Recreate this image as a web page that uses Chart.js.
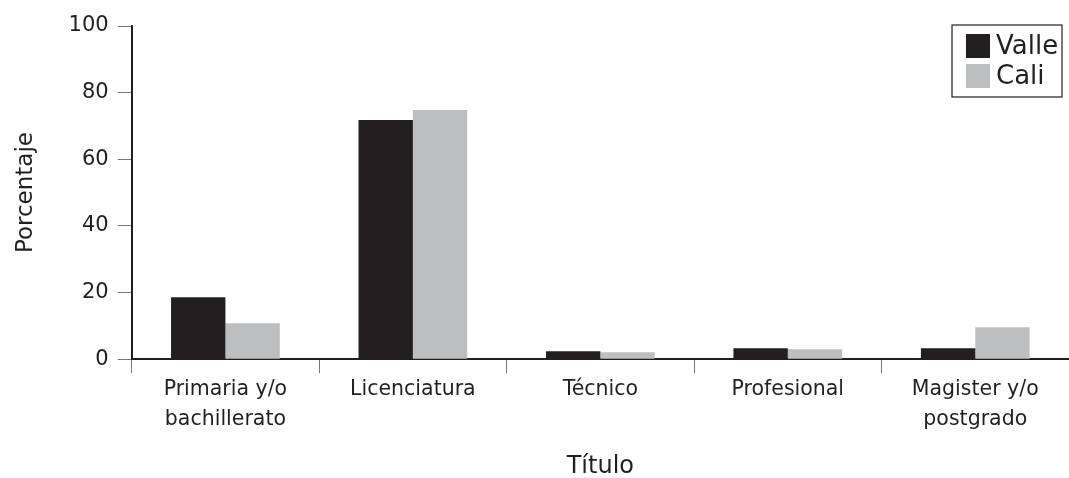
<!DOCTYPE html>
<html>
<head>
<meta charset="utf-8">
<script src="https://cdn.jsdelivr.net/npm/chart.js@4.4.0/dist/chart.umd.min.js"></script>
<style>
  html, body { margin: 0; padding: 0; background: #fff; }
  #wrap { width: 1069px; height: 478px; }
</style>
</head>
<body>
<div id="wrap"><canvas id="graph"></canvas></div>
<script>
// datos del grafico
const categorias = [['Primaria y/o', 'bachillerato'], 'Licenciatura', 'Técnico', 'Profesional', ['Magister y/o', 'postgrado']];
const valle = [18.6, 71.8, 2.4, 3.3, 3.3];
const cali = [10.8, 74.8, 2.1, 3.0, 9.6];
const yTicks = [0, 20, 40, 60, 80, 100];

const negro = '#231f20';
const gris = '#bcbec0';
const fuente = 'DejaVu Sans';

// leyenda con borde dentro del area del grafico
const leyenda = {
  id: 'leyenda',
  afterDraw(chart) {
    const ctx = chart.ctx;
    const a = chart.chartArea;
    const x = a.right - 117, y = a.top - 1;
    ctx.save();
    ctx.fillStyle = '#fff';
    ctx.fillRect(x, y, 110, 72);
    ctx.strokeStyle = negro;
    ctx.lineWidth = 1.2;
    ctx.strokeRect(x, y, 110, 72);
    ctx.font = '26px "' + fuente + '"';
    ctx.textBaseline = 'middle';
    chart.data.datasets.forEach((ds, i) => {
      ctx.fillStyle = ds.backgroundColor;
      ctx.fillRect(x + 14, y + 9 + i * 30, 24, 24);
      ctx.fillStyle = negro;
      ctx.fillText(ds.label, x + 44, y + 22 + i * 30);
    });
    ctx.restore();
  }
};

const canvas = document.getElementById('graph');
new Chart(canvas.getContext('2d'), {
  type: 'bar',
  data: {
    labels: categorias,
    datasets: [
      { label: 'Valle', data: valle, backgroundColor: negro },
      { label: 'Cali', data: cali, backgroundColor: gris }
    ]
  },
  options: {
    responsive: true,
    maintainAspectRatio: false,
    animation: false,
    layout: { padding: { top: 26, right: 0, left: 8, bottom: 0 } },
    datasets: { bar: { categoryPercentage: 0.58, barPercentage: 1.0 } },
    plugins: {
      legend: { display: false },
      tooltip: { enabled: false }
    },
    scales: {
      x: {
        grid: { offset: true, drawOnChartArea: false, tickLength: 14, color: '#777', lineWidth: 1 },
        border: { color: negro, width: 2 },
        ticks: { color: negro, font: { family: fuente, size: 20.5, lineHeight: 1.45 }, padding: 2 },
        title: { display: true, text: 'Título', color: negro, font: { family: fuente, size: 24, lineHeight: 0.6 }, padding: { top: 23 } }
      },
      y: {
        min: 0,
        max: 100,
        afterBuildTicks(axis) { axis.ticks = yTicks.map(v => ({ value: v })); },
        grid: { drawOnChartArea: false, tickLength: 14, color: '#777', lineWidth: 1 },
        border: { color: negro, width: 2 },
        ticks: { color: negro, font: { family: fuente, size: 21 }, padding: 9 },
        title: { display: true, text: 'Porcentaje', color: negro, font: { family: fuente, size: 23 }, padding: { bottom: 20 } }
      }
    }
  },
  plugins: [leyenda]
});
</script>
</body>
</html>
